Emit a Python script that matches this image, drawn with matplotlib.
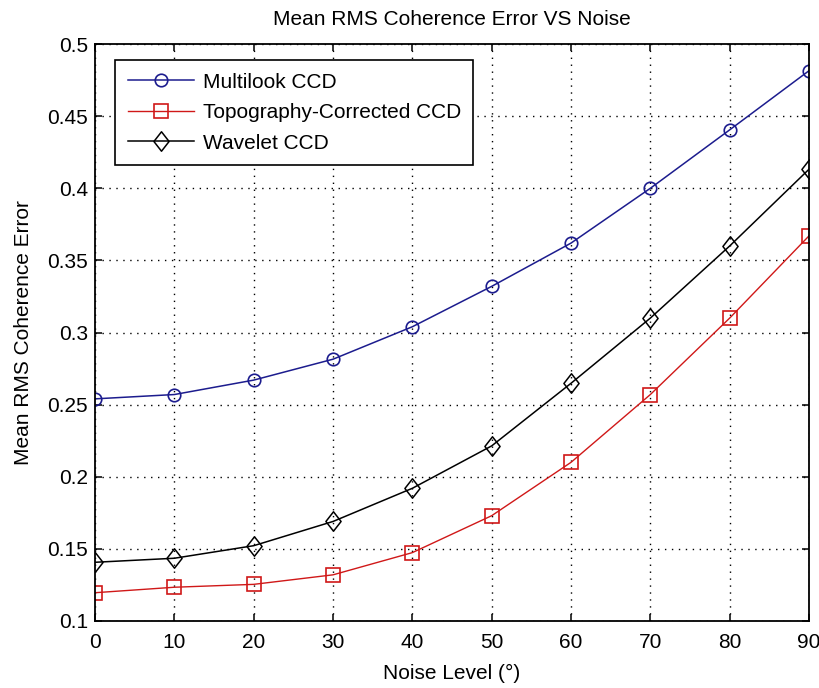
import numpy as np
import matplotlib
matplotlib.use('Agg')
import matplotlib.pyplot as plt
from matplotlib.path import Path

noise = [0, 10, 20, 30, 40, 50, 60, 70, 80, 90]
multilook = [0.254, 0.257, 0.267, 0.2815, 0.304, 0.332, 0.362, 0.400, 0.4405, 0.4815]
topo = [0.1196, 0.1234, 0.1254, 0.132, 0.1474, 0.173, 0.210, 0.257, 0.310, 0.367]
wavelet = [0.1407, 0.1435, 0.1522, 0.169, 0.192, 0.2214, 0.2648, 0.310, 0.360, 0.4132]

plt.rcParams['font.family'] = 'Liberation Sans'
plt.rcParams['font.size'] = 15

# matlab-style diamond, a bit narrower than tall
diamond = Path([(0, 1), (0.78, 0), (0, -1), (-0.78, 0), (0, 1)],
               [Path.MOVETO, Path.LINETO, Path.LINETO, Path.LINETO, Path.CLOSEPOLY])

fig = plt.figure(figsize=(8.2, 6.88), dpi=100)
ax = fig.add_axes([0.1159, 0.0974, 0.8707, 0.8386])

ax.plot(noise, multilook, '-o', color='#1c1c8e', lw=1.1, ms=9, mfc='none', mew=1.2,
        label='Multilook CCD')
ax.plot(noise, topo, '-s', color='#d01818', lw=1.0, ms=10, mfc='none', mew=1.2,
        label='Topography-Corrected CCD')
ax.plot(noise, wavelet, '-', marker=diamond, color='black', lw=1.1, ms=14, mfc='none', mew=1.1,
        label='Wavelet CCD')

ax.set_xlim(0, 90)
ax.set_ylim(0.1, 0.5)
ax.set_xticks(noise)
ax.set_yticks([0.1, 0.15, 0.2, 0.25, 0.3, 0.35, 0.4, 0.45, 0.5])
ax.set_yticklabels(['0.1', '0.15', '0.2', '0.25', '0.3', '0.35', '0.4', '0.45', '0.5'])
ax.grid(True, color='black', linestyle=(0, (1, 4)), linewidth=1.0)
ax.tick_params(direction='in', top=True, right=True, length=5, width=1.1, labelsize=15)
ax.tick_params(axis='x', pad=9)
ax.tick_params(axis='y', pad=5)
for s in ax.spines.values():
    s.set_linewidth(1.3)

ax.set_title('Mean RMS Coherence Error VS Noise', fontsize=15, pad=14)
ax.set_xlabel('Noise Level (°)', fontsize=15, labelpad=8)
ax.set_ylabel('Mean RMS Coherence Error', fontsize=15, labelpad=10)

leg = ax.legend(loc='upper left', bbox_to_anchor=(0.028, 0.972), fancybox=False,
                edgecolor='black', framealpha=1, handlelength=3.2, borderaxespad=0,
                labelspacing=0.55, handletextpad=0.4, borderpad=0.6)
leg.get_frame().set_linewidth(1.2)

fig.savefig('out.png', dpi=100)
